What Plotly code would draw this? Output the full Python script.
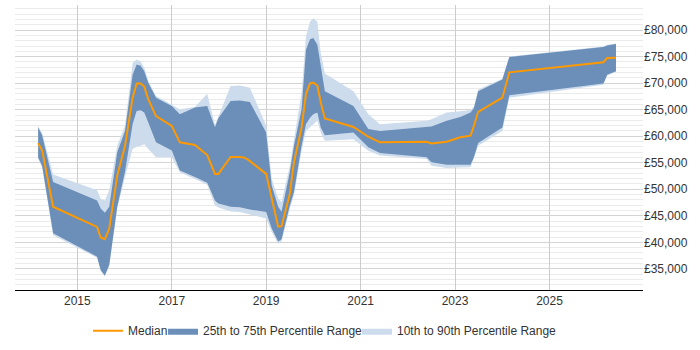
import plotly.graph_objects as go

dates = [
    "2014-03-04", "2014-04-04", "2014-06-28", "2015-06-03", "2015-07-01", "2015-08-02",
    "2015-09-05", "2015-11-06", "2016-01-05", "2016-03-04", "2016-04-04", "2016-05-05",
    "2016-06-02", "2016-07-03", "2016-09-01", "2017-01-01", "2017-03-04", "2017-06-29",
    "2017-10-02", "2017-12-01", "2017-12-27", "2018-04-01", "2018-06-11", "2018-07-20",
    "2018-08-28", "2019-01-01", "2019-02-13", "2019-04-04", "2019-04-30", "2019-07-03",
    "2019-08-04", "2019-10-02", "2019-11-05", "2019-12-06", "2020-01-01", "2020-02-01",
    "2020-02-27", "2020-03-30", "2020-11-06", "2021-03-01", "2021-05-30", "2022-05-26",
    "2022-07-03", "2022-10-28", "2023-02-10", "2023-05-01", "2023-05-27", "2023-06-29",
    "2024-01-02", "2024-02-25", "2026-02-22", "2026-03-23", "2026-05-30",
]

median = [
    58700, 57300, 46700, 42900, 40900, 40600, 42600, 52600, 58200, 67270, 69950, 69950,
    69350, 66950, 63800, 61950, 58850, 58350, 56450, 52900, 52900, 56100, 56100, 55950,
    55300, 52900, 48250, 42950, 43050, 49150, 55100, 61650, 68000, 69950, 70100, 69550,
    66350, 63350, 61750, 59900, 58850, 58950, 58650, 58950, 59800, 60100, 61950, 64600,
    67270, 72050, 73950, 74750, 74800,
]

p75 = [
    61650, 60200, 51350, 47900, 46360, 45550, 46700, 57000, 61000, 71600, 73500, 73300,
    72250, 70100, 67270, 65700, 64150, 65400, 65700, 61700, 63400, 66650, 66750, 66650,
    66450, 60700, 50700, 46700, 45750, 53250, 58200, 65080, 76300, 78300, 78500, 77250,
    73200, 68500, 65700, 61350, 61000, 61850, 61850, 62900, 63600, 64450, 65250, 68500,
    70700, 74950, 76800, 77100, 77400,
]

p25 = [
    56000, 54400, 41700, 37300, 34800, 33750, 35750, 46700, 53300, 62300, 64750, 64900,
    64450, 62600, 58850, 57300, 53530, 52300, 51250, 47900, 47300, 46700, 46600, 46400,
    46200, 45700, 42600, 40150, 40600, 46950, 49500, 58200, 62250, 63500, 64150, 64450,
    61650, 60200, 60700, 57900, 56850, 56050, 55100, 54600, 54600, 54600, 56050, 58700,
    61650, 67700, 69950, 71600, 72250,
]

p90 = [
    61900, 60600, 52800, 49800, 48200, 47900, 49800, 58210, 61950, 73800, 74440, 74100,
    72900, 70400, 67570, 65850, 65080, 65500, 68000, 62100, 63750, 69450, 69550, 69350,
    69150, 61950, 51950, 48250, 47600, 54450, 59450, 68200, 78800, 81600, 82250, 81600,
    75700, 71800, 68500, 64150, 62250, 62900, 63200, 64450, 64700, 64950, 65600, 68800,
    70850, 75050, 76930, 77250, 77500,
]

p10 = [
    55800, 54200, 41350, 37100, 34550, 33550, 35500, 46360, 52350, 57600, 58000, 58210,
    58500, 57600, 56050, 56050, 53230, 51950, 50850, 46950, 46550, 45800, 45700, 45500,
    45300, 44500, 42000, 39700, 40150, 46350, 48850, 57250, 61000, 61650, 62250, 62900,
    60700, 59150, 59450, 57250, 56350, 55700, 54450, 54000, 54100, 54150, 55700, 58200,
    61000, 67270, 69700, 71450, 72150,
]

y_ticks = [35000, 40000, 45000, 50000, 55000, 60000, 65000, 70000, 75000, 80000]
y_tick_labels = ["£{:,}".format(v) for v in y_ticks]
x_ticks = ["2015-01-01", "2017-01-01", "2019-01-01", "2021-01-01", "2023-01-01", "2025-01-01"]
x_tick_labels = ["2015", "2017", "2019", "2021", "2023", "2025"]

fig = go.Figure()

fig.add_trace(go.Scatter(
    x=dates + dates[::-1], y=p90 + p10[::-1],
    fill="toself", fillcolor="#cddcec", mode="lines", line=dict(width=0, color="#cddcec"),
    name="10th to 90th Percentile Range", legend="legend3", hoverinfo="skip",
))
fig.add_trace(go.Scatter(
    x=dates + dates[::-1], y=p75 + p25[::-1],
    fill="toself", fillcolor="#6b8fb9", mode="lines", line=dict(width=0, color="#6b8fb9"),
    name="25th to 75th Percentile Range", legend="legend2", hoverinfo="skip",
))
fig.add_trace(go.Scatter(
    x=dates, y=median, mode="lines", line=dict(color="#ff9900", width=2),
    name="Median", legend="legend",
))

leg_common = dict(orientation="h", y=-0.143, yanchor="middle", xanchor="left",
                  font=dict(size=12, color="#333333"), itemwidth=30,
                  bgcolor="rgba(0,0,0,0)")

fig.update_layout(
    width=700, height=350,
    margin=dict(l=15, r=57, t=5, b=58),
    paper_bgcolor="white", plot_bgcolor="white",
    font=dict(family="Liberation Sans, Arial, sans-serif", size=12, color="#333333"),
    showlegend=True,
    legend=dict(x=0.1162, **leg_common),
    legend2=dict(x=0.2357, **leg_common),
    legend3=dict(x=0.5446, **leg_common),
    xaxis=dict(
        type="date", range=["2013-09-06", "2026-12-25"],
        tickvals=x_ticks, ticktext=x_tick_labels,
        showgrid=True, gridcolor="#cccccc", gridwidth=1,
        showline=True, linecolor="#000000", linewidth=1,
        ticks="", zeroline=False,
    ),
    yaxis=dict(
        side="right", range=[31010, 84736],
        tickvals=y_ticks, ticktext=y_tick_labels,
        showgrid=True, gridcolor="#d4d4d4", gridwidth=1,
        minor=dict(tick0=0, dtick=1000, showgrid=True, gridcolor="#ebebeb", gridwidth=1),
        showline=False, ticks="", zeroline=False,
    ),
)

fig.write_html("out.html")
